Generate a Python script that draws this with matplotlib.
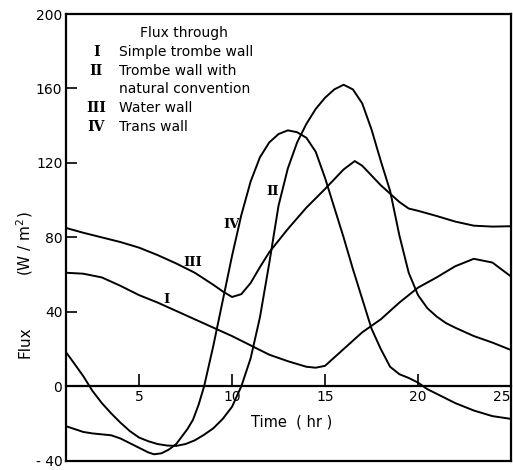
import matplotlib
matplotlib.use('Agg')
import matplotlib.pyplot as plt

# curve I - simple trombe wall
hours_1 = [1.1, 2, 3, 4, 5, 6, 7, 8, 9, 10, 11, 12, 13, 14, 14.5, 15, 16, 17, 18, 19, 20, 21, 22, 23, 24, 25]
flux_1 = [61, 60.5, 58.5, 54, 49, 45, 40.5, 36, 31.5, 27, 22, 17, 13.5, 10.5, 10, 11, 20, 29, 36, 45, 53,
          58.5, 64.5, 68.5, 66.5, 59]

# curve II - trombe wall with natural convection
hours_2 = [1.1, 1.5, 2, 2.5, 3, 3.5, 4, 4.5, 5, 5.5, 6, 6.5, 7, 7.5, 8, 8.5, 9, 9.5, 10, 10.5, 11, 11.5, 12,
           12.5, 13, 13.5, 14, 14.5, 15, 15.5, 16, 16.5, 17, 17.5, 18, 18.5, 19, 19.5, 20, 20.5, 21,
           21.5, 22, 23, 24, 25]
flux_2 = [18, 12.5, 5.5, -2.5, -9, -14.5, -19.5, -24, -27.5, -29.5, -31, -31.8, -32, -31, -29, -26, -22.5,
          -17.5, -11, 0, 15, 37, 66, 97, 117, 131, 141, 149, 155, 159.5, 162, 159.5, 152, 138, 121, 105, 81,
          61, 49, 42, 37.5, 34, 31.5, 27, 23.5, 19.5]

# curve III - water wall
hours_3 = [1.1, 2, 3, 4, 5, 6, 7, 8, 9, 9.5, 10, 10.5, 11, 11.5, 12, 13, 14, 15, 16, 16.6, 17, 18, 18.5, 19,
           19.5, 20, 21, 22, 23, 24, 25]
flux_3 = [85, 82.5, 80, 77.5, 74.5, 70.5, 66, 61, 54.5, 51, 48, 49.5, 55.5, 64, 72, 84.5, 96, 106, 116.5, 121,
          118.5, 108, 103.5, 99, 95.5, 94.3, 91.5, 88.5, 86.3, 85.8, 86]

# curve IV - trans wall
hours_4 = [1.1, 2, 2.5, 3, 3.5, 4, 4.5, 5, 5.5, 5.8, 6.2, 6.6, 7, 7.3, 7.6, 7.9, 8.2, 8.5, 9, 9.5, 10, 10.5,
           11, 11.5, 12, 12.5, 13, 13.5, 14, 14.5, 15, 15.5, 16, 16.5, 17, 17.5, 18, 18.5, 19, 19.5, 20, 20.5,
           21, 22, 23, 24, 25]
flux_4 = [-21.5, -24.5, -25.3, -25.8, -26.3, -28, -30.5, -33, -35.5, -36.5, -36, -34, -31, -27, -23, -18, -10,
          0, 22, 46, 70, 92, 110, 123, 131, 135.5, 137.5, 136.5, 133.5, 126, 112, 96, 80, 63, 47, 31, 20, 10.5,
          6.5, 4.5, 2, -1.5, -4, -9, -13, -16, -17.5]

x_ticks = [5, 10, 15, 20, 25]
y_ticks = [-40, 0, 40, 80, 120, 160, 200]
y_tick_labels = ['- 40', '0', '40', '80', '120', '160', '200']

legend_numerals = ['I', 'II', '', 'III', 'IV']
legend_texts = ['Simple trombe wall', 'Trombe wall with', 'natural convention', 'Water wall', 'Trans wall']

plt.rcParams['font.family'] = ['DejaVu Sans']

fig = plt.figure(figsize=(5.13, 4.70), dpi=100)
ax = fig.add_axes([0.1296, 0.0196, 0.8665, 0.9506])

lw = 1.4
for hrs, fl in [(hours_1, flux_1), (hours_2, flux_2), (hours_3, flux_3), (hours_4, flux_4)]:
    ax.plot(hrs, fl, color='black', linewidth=lw, solid_joinstyle='round')

ax.set_xlim(1.1, 25)
ax.set_ylim(-40, 200)

# x axis sits on the zero line, the box is closed at the bottom by hand
ax.spines['bottom'].set_position(('data', 0))
ax.axhline(-40, color='black', linewidth=1.6, clip_on=False)
for s in ax.spines.values():
    s.set_linewidth(1.6)

ax.set_xticks(x_ticks)
ax.set_xticklabels([str(t) for t in x_ticks])
ax.get_xticklabels()[-1].set_ha('right')
ax.set_yticks(y_ticks)
ax.set_yticklabels(y_tick_labels)
ax.tick_params(axis='x', direction='in', length=9, width=1.2, pad=3, labelsize=10)
ax.tick_params(axis='y', direction='in', length=8, width=1.2, pad=3, labelsize=10)

# axis labels
fig.text(25 / 513, 1 - 342 / 470, 'Flux', rotation=90, ha='center', va='center', fontsize=11)
fig.text(25 / 513, 1 - 244 / 470, r'(W / m$^2$)', rotation=90, ha='center', va='center', fontsize=11)
ax.text(13.2, -19, 'Time  ( hr )', ha='center', va='center', fontsize=10.5)

# legend block
ax.text(7.4, 190, 'Flux through', ha='center', va='center', fontsize=10)
for i, (num, txt) in enumerate(zip(legend_numerals, legend_texts)):
    yy = 179.5 - i * 10
    if num:
        ax.text(2.7, yy, num, ha='center', va='center', fontsize=10, family='DejaVu Serif', fontweight='bold')
    ax.text(3.9, yy, txt, ha='left', va='center', fontsize=10)

# curve labels
ax.text(6.5, 46.5, 'I', ha='center', va='center', fontsize=9.5, family='DejaVu Serif', fontweight='bold')
ax.text(12.2, 104.5, 'II', ha='center', va='center', fontsize=9.5, family='DejaVu Serif', fontweight='bold')
ax.text(7.9, 66.5, 'III', ha='center', va='center', fontsize=9.5, family='DejaVu Serif', fontweight='bold')
ax.text(10.0, 87, 'IV', ha='center', va='center', fontsize=9.5, family='DejaVu Serif', fontweight='bold')

fig.savefig('out.png', dpi=100)
